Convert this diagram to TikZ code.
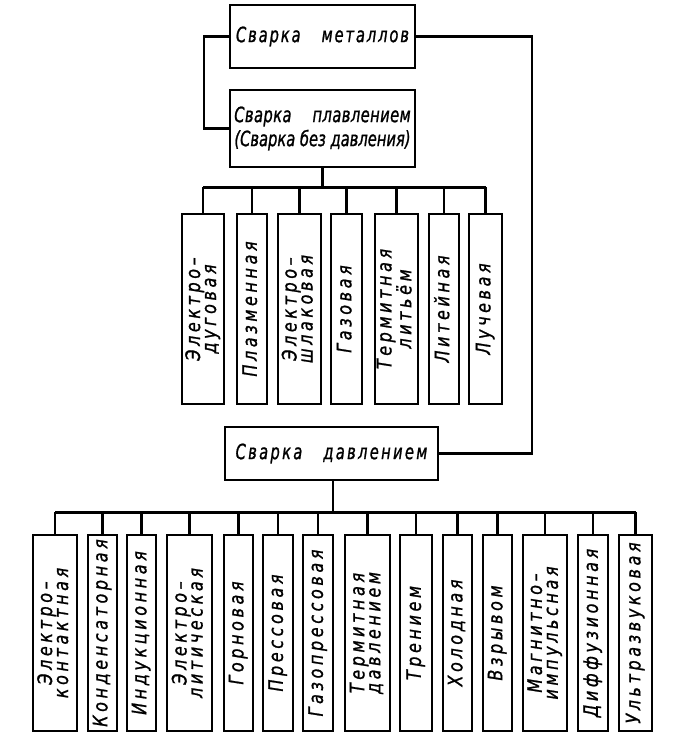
\documentclass[tikz,border=0pt]{standalone}
\usepackage{fontspec}
\setmainfont{DejaVu Sans}
\newfontfamily\gostA[LetterSpace=9,FakeStretch=0.7,FakeBold=1]{DejaVu Sans}
\newfontfamily\gostC[LetterSpace=0,FakeStretch=0.7,FakeBold=1]{DejaVu Sans}
\newfontfamily\gostE[LetterSpace=2,FakeStretch=0.7,FakeBold=1]{DejaVu Sans}
\newfontfamily\gostD[LetterSpace=11,FakeStretch=0.7,FakeBold=1]{DejaVu Sans}
\newfontfamily\gostB[LetterSpace=18,FakeStretch=0.8,FakeBold=1]{DejaVu Sans}
\begin{document}
\begin{tikzpicture}[x=1pt,y=-1pt,
  box/.style={draw,line width=2.6pt,rectangle,inner sep=0pt,anchor=center},
  head/.style={box,font=\itshape\fontsize{21}{22}\selectfont,align=center},
  vbox/.style={box,font=\gostB\itshape\fontsize{20}{16}\selectfont},
  link/.style={line width=2.3pt},
  bus/.style={line width=3pt}]
\useasboundingbox (0,0) rectangle (672,744);
\fill[white] (0,0) rectangle (672,744);
\newcommand\vt[1]{\rotatebox{90}{\begin{tabular}{@{}c@{}}#1\end{tabular}}}
% top boxes
\node[head,minimum width=185pt,minimum height=63pt] (top) at (322.5,36.5) {\gostA Сварка\quad металлов};
\node[head,minimum width=185pt,minimum height=77pt] (melt) at (322.5,128.5) {\gostE Сварка\quad плавлением\\[2pt]\gostC(Сварка без давления)};
\node[head,minimum width=213pt,minimum height=53pt] (press) at (331.5,453.5) {\gostD Сварка\quad давлением};
\coordinate (L) at (204,0);
\coordinate (R) at (532,0);
\coordinate (busA) at (322,187);
\coordinate (busB) at (333,512);
\draw[link] (top.west) -- (top.west -| L) -- (L |- melt.west) -- (melt.west);
\draw[link] (top.east) -- (top.east -| R) -- (R |- press.east) -- (press.east);
% melting boxes
\foreach \n/\cx/\w/\t in {m1/203/42/{Электро–\\дуговая},m2/252/30/{Плазменная},m3/299.5/43/{Электро–\\шлаковая},m4/346.5/31/{Газовая},m5/396.5/43/{Термитная\\литьём},m6/444/30/{Литейная},m7/485.5/33/{Лучевая}}{
  \node[vbox,minimum width=\w pt,minimum height=190pt] (\n) at (\cx,309) {\vt{\t}};
  \draw[link] (\n.north) -- (\n.north |- busA);
}
\draw[bus] (m1.north |- busA) -- (m7.north |- busA);
\draw[link] (melt.south) -- (melt.south |- busA);
% pressure boxes
\foreach \n/\cx/\w/\t in {p1/55/44/{Электро–\\контактная},p2/102.5/29/{Конденсаторная},p3/141.5/29/{Индукционная},p4/189.5/45/{Электро–\\литическая},p5/238.5/29/{Горновая},p6/278/30/{Прессовая},p7/318/30/{Газопрессовая},p8/367.5/45/{Термитная\\давлением},p9/416/32/{Трением},p10/457.5/29/{Холодная},p11/497.5/29/{Взрывом},p12/545/44/{Магнитно–\\импульсная},p13/593/30/{Диффузионная},p14/635.5/33/{Ультразвуковая}}{
  \node[vbox,minimum width=\w pt,minimum height=196pt] (\n) at (\cx,633) {\vt{\t}};
  \draw[link] (\n.north) -- (\n.north |- busB);
}
\draw[bus] (p1.north |- busB) -- (p14.north |- busB);
\draw[link] (press.south -| busB) -- (busB);
\end{tikzpicture}
\end{document}
